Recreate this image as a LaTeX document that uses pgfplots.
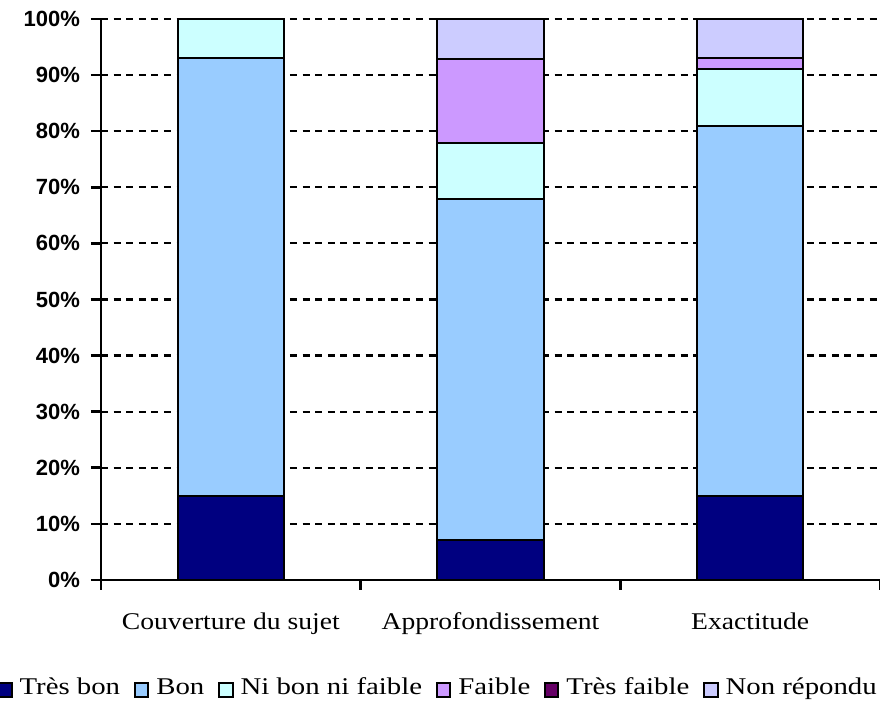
\documentclass[border=0pt]{standalone}
\usepackage{pgfplots}
\pgfplotsset{compat=1.18}
\usepackage{fontspec}
\setmainfont{Liberation Serif}
\newfontfamily\catfont[FakeStretch=1.15]{Liberation Serif}
\newfontfamily\legfont[FakeStretch=1.2]{Liberation Serif}
\newfontfamily\tickfont{Liberation Sans}

\definecolor{tresbon}{HTML}{000080}
\definecolor{bon}{HTML}{99CCFF}
\definecolor{nibon}{HTML}{CCFFFF}
\definecolor{faible}{HTML}{CC99FF}
\definecolor{tresfaible}{HTML}{660066}
\definecolor{nonrep}{HTML}{CCCCFF}

\begin{document}
\begin{tikzpicture}
\useasboundingbox (-50.5pt,-63pt) rectangle (389.5pt,290pt);
\begin{axis}[
    scale only axis,
    width=389.5pt, height=280.5pt,
    ybar stacked,
    bar width=0.41,
    xmin=-0.5, xmax=2.5,
    ymin=0, ymax=100,
    axis lines=left,
    axis line style={-, line width=1.3pt},
    xtick={-0.5,0.5,1.5,2.5},
    xticklabels={Couverture du sujet,Approfondissement,Exactitude},
    x tick label as interval=true,
    x tick label style={font=\catfont\fontsize{12}{14}\selectfont, yshift=-8pt},
    ytick={0,10,...,100},
    yticklabel={\pgfmathprintnumber{\tick}\%},
    y tick label style={font=\tickfont\bfseries\fontsize{11}{12}\selectfont, xshift=-2pt},
    /pgf/number format/assume math mode=true,
    tick style={line width=1.3pt, black},
    major tick length=5pt,
    tick align=outside,
    ymajorgrids=true,
    y grid style={black, line width=1.1pt, dash pattern=on 3.5pt off 2.8pt},
    legend columns=6,
    legend style={draw=none, fill=none, at={(0.434,-0.196)}, anchor=center,
        font=\legfont\fontsize{12}{14}\selectfont,
        nodes={text depth=0.25em, text height=0.75em},
        /tikz/every even column/.append style={column sep=5pt},
        /tikz/every odd column/.append style={column sep=1.5pt}},
    legend image code/.code={\draw[#1, line width=1pt] (0pt,-3.3pt) rectangle (6.6pt,3.3pt);},
    every axis plot/.append style={draw=black, line width=1pt},
]
\addplot[fill=tresbon] coordinates {(0,15) (1,7.1) (2,15)};
\addplot[fill=bon] coordinates {(0,78) (1,60.8) (2,66)};
\addplot[fill=nibon] coordinates {(0,7) (1,10) (2,10)};
\addplot[fill=faible] coordinates {(0,0) (1,15) (2,2)};
\addplot[fill=tresfaible] coordinates {(0,0) (1,0) (2,0)};
\addplot[fill=nonrep] coordinates {(0,0) (1,7.1) (2,7)};
\legend{Très bon,Bon,Ni bon ni faible,Faible,Très faible,Non répondu}
\end{axis}
\end{tikzpicture}
\end{document}
